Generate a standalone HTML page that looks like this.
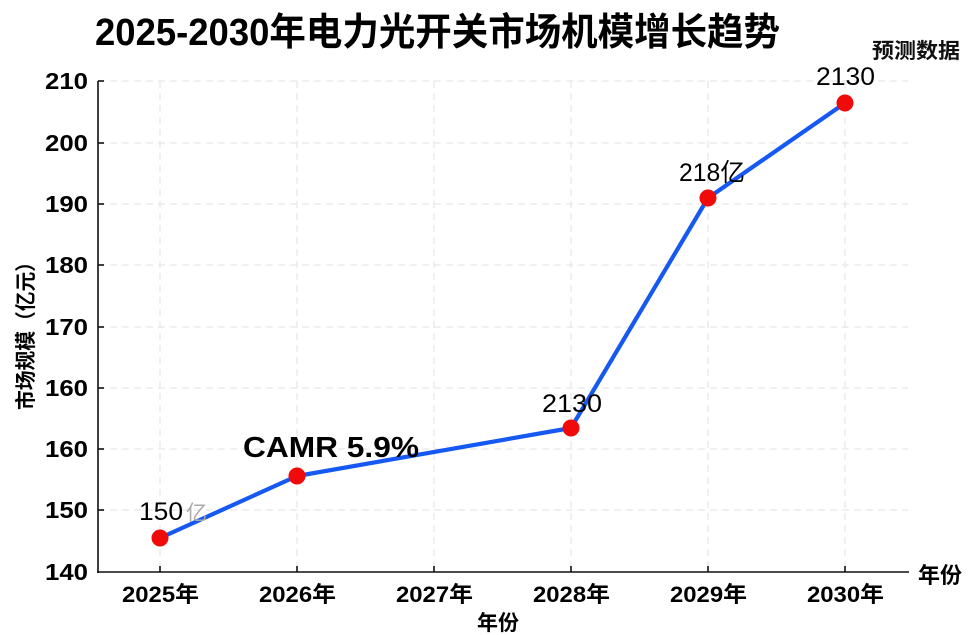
<!DOCTYPE html>
<html><head><meta charset="utf-8">
<style>
html,body{margin:0;padding:0;background:#fff;}
svg{display:block;}
text{font-family:"Liberation Sans","Noto Sans CJK SC",sans-serif;}
</style></head>
<body>
<svg width="971" height="635" viewBox="0 0 971 635" xmlns="http://www.w3.org/2000/svg">
<rect width="971" height="635" fill="#fff"/>
<!-- title -->
<text x="95" y="45" font-size="38" font-weight="bold" fill="#000" textLength="685" lengthAdjust="spacingAndGlyphs">2025-2030年电力光开关市场机模增长趋势</text>
<text x="872" y="58" font-size="21" font-weight="bold" fill="#111" textLength="88" lengthAdjust="spacingAndGlyphs">预测数据</text>

<!-- grid -->
<g stroke="#e6e6e6" stroke-width="1.2" stroke-dasharray="7,5" fill="none">
<line x1="98" y1="81" x2="908" y2="81"/>
<line x1="98" y1="143" x2="908" y2="143"/>
<line x1="98" y1="204" x2="908" y2="204"/>
<line x1="98" y1="265" x2="908" y2="265"/>
<line x1="98" y1="327" x2="908" y2="327"/>
<line x1="98" y1="388" x2="908" y2="388"/>
<line x1="98" y1="449" x2="908" y2="449"/>
<line x1="98" y1="510" x2="908" y2="510"/>
<line x1="160" y1="81" x2="160" y2="572"/>
<line x1="297" y1="81" x2="297" y2="572"/>
<line x1="434" y1="81" x2="434" y2="572"/>
<line x1="571" y1="81" x2="571" y2="572"/>
<line x1="708" y1="81" x2="708" y2="572"/>
<line x1="845" y1="81" x2="845" y2="572"/>
</g>

<!-- axes -->
<g stroke="#111" stroke-width="1.6" fill="none">
<line x1="98" y1="81" x2="98" y2="573"/>
<line x1="97" y1="572" x2="909" y2="572"/>
<line x1="98" y1="81" x2="104" y2="81"/>
<line x1="98" y1="143" x2="104" y2="143"/>
<line x1="98" y1="204" x2="104" y2="204"/>
<line x1="98" y1="265" x2="104" y2="265"/>
<line x1="98" y1="327" x2="104" y2="327"/>
<line x1="98" y1="388" x2="104" y2="388"/>
<line x1="98" y1="449" x2="104" y2="449"/>
<line x1="98" y1="510" x2="104" y2="510"/>
<line x1="160" y1="572" x2="160" y2="566"/>
<line x1="297" y1="572" x2="297" y2="566"/>
<line x1="434" y1="572" x2="434" y2="566"/>
<line x1="571" y1="572" x2="571" y2="566"/>
<line x1="708" y1="572" x2="708" y2="566"/>
<line x1="845" y1="572" x2="845" y2="566"/>
</g>

<!-- y tick labels -->
<g font-size="23" font-weight="bold" fill="#000">
<text x="45" y="89" textLength="43" lengthAdjust="spacingAndGlyphs">210</text>
<text x="45" y="151" textLength="43" lengthAdjust="spacingAndGlyphs">200</text>
<text x="45" y="212" textLength="43" lengthAdjust="spacingAndGlyphs">190</text>
<text x="45" y="273" textLength="43" lengthAdjust="spacingAndGlyphs">180</text>
<text x="45" y="335" textLength="43" lengthAdjust="spacingAndGlyphs">170</text>
<text x="45" y="396" textLength="43" lengthAdjust="spacingAndGlyphs">160</text>
<text x="45" y="457" textLength="43" lengthAdjust="spacingAndGlyphs">160</text>
<text x="45" y="518" textLength="43" lengthAdjust="spacingAndGlyphs">150</text>
<text x="45" y="580" textLength="43" lengthAdjust="spacingAndGlyphs">140</text>
</g>

<!-- x tick labels -->
<g font-size="22" font-weight="bold" fill="#000">
<text x="122" y="602" textLength="77" lengthAdjust="spacingAndGlyphs">2025年</text>
<text x="259" y="602" textLength="77" lengthAdjust="spacingAndGlyphs">2026年</text>
<text x="396" y="602" textLength="77" lengthAdjust="spacingAndGlyphs">2027年</text>
<text x="533" y="602" textLength="77" lengthAdjust="spacingAndGlyphs">2028年</text>
<text x="670" y="602" textLength="77" lengthAdjust="spacingAndGlyphs">2029年</text>
<text x="807" y="602" textLength="77" lengthAdjust="spacingAndGlyphs">2030年</text>
</g>

<!-- axis labels -->
<text x="498" y="630" font-size="21" font-weight="bold" text-anchor="middle" fill="#000">年份</text>
<text x="940" y="583" font-size="22" font-weight="bold" text-anchor="middle" fill="#000">年份</text>
<text transform="translate(33,331) rotate(-90)" font-size="21" font-weight="bold" text-anchor="middle" fill="#000" textLength="158" lengthAdjust="spacingAndGlyphs">市场规模（亿元）</text>

<!-- series -->
<polyline points="160,538 297,476 571,428 708,198 845,103" fill="none" stroke="#1659f2" stroke-width="4.2" stroke-linejoin="round" stroke-linecap="round"/>
<g fill="#f00a0a">
<circle cx="160" cy="538" r="8.5"/>
<circle cx="297" cy="476" r="8.5"/>
<circle cx="571" cy="428" r="8.5"/>
<circle cx="708" cy="198" r="8.5"/>
<circle cx="845" cy="103" r="8.5"/>
</g>

<!-- data labels -->
<text x="139" y="520" font-size="25" fill="#000" textLength="44" lengthAdjust="spacingAndGlyphs">150</text>
<text x="186" y="520" font-size="21" fill="#aaa">亿</text>
<text x="243" y="457" font-size="29" font-weight="bold" fill="#000" textLength="176" lengthAdjust="spacingAndGlyphs">CAMR 5.9%</text>
<text x="542" y="412" font-size="25" fill="#000" textLength="60" lengthAdjust="spacingAndGlyphs">2130</text>
<text x="679" y="181" font-size="25" fill="#000" textLength="66" lengthAdjust="spacingAndGlyphs">218亿</text>
<text x="816" y="85" font-size="25" fill="#000" textLength="59" lengthAdjust="spacingAndGlyphs">2130</text>
</svg>
</body></html>
